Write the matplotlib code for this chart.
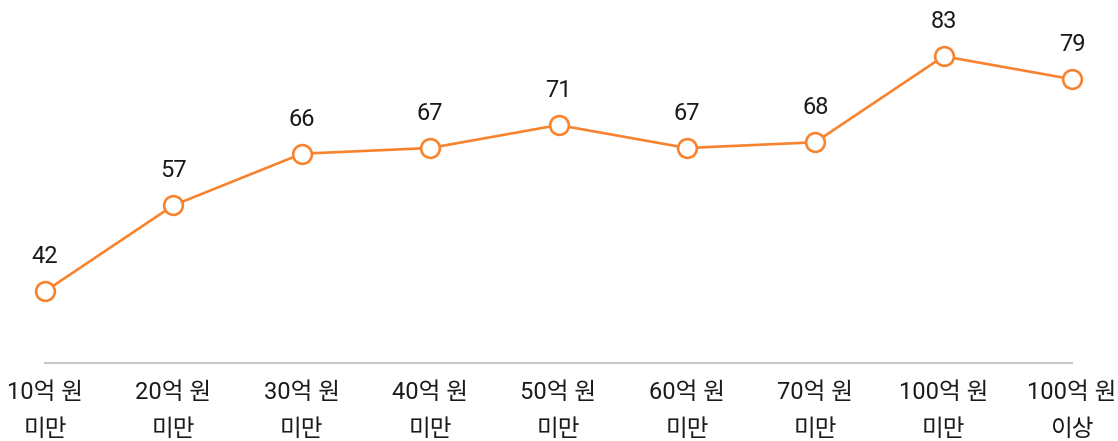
import matplotlib.pyplot as plt

plt.rcParams['font.family'] = ['Roboto', 'Noto Sans CJK KR', 'DejaVu Sans']

categories = ['10억 원\n미만', '20억 원\n미만', '30억 원\n미만', '40억 원\n미만', '50억 원\n미만',
              '60억 원\n미만', '70억 원\n미만', '100억 원\n미만', '100억 원\n이상']
values = [42, 57, 66, 67, 71, 67, 68, 83, 79]

color = '#F8832F'

fig = plt.figure(figsize=(11.18, 4.41), dpi=100)
ax = fig.add_axes([45 / 1118, 78 / 441, (1072 - 45) / 1118, 344 / 441])

x = list(range(len(values)))
ax.plot(x, values, color=color, linewidth=1.9, marker='o', markersize=13.5,
        markerfacecolor='white', markeredgecolor=color, markeredgewidth=1.9, clip_on=False)

for xi, v in zip(x, values):
    ax.annotate(str(v), (xi, v), xytext=(0, 25), textcoords='offset points',
                ha='center', va='center', fontsize=17, color='#1a1a1a')

ax.set_xlim(0, len(values) - 1)
ax.set_ylim(29.5, 89.5)
ax.set_xticks(x)
ax.set_xticklabels(categories, fontsize=17, color='#1a1a1a', linespacing=1.8)
ax.tick_params(axis='x', length=0, pad=13)
ax.set_yticks([])
for s in ['top', 'right', 'left']:
    ax.spines[s].set_visible(False)
ax.spines['bottom'].set_color('#C8C8C8')
ax.spines['bottom'].set_linewidth(1.5)

fig.savefig('out.png', dpi=100)
